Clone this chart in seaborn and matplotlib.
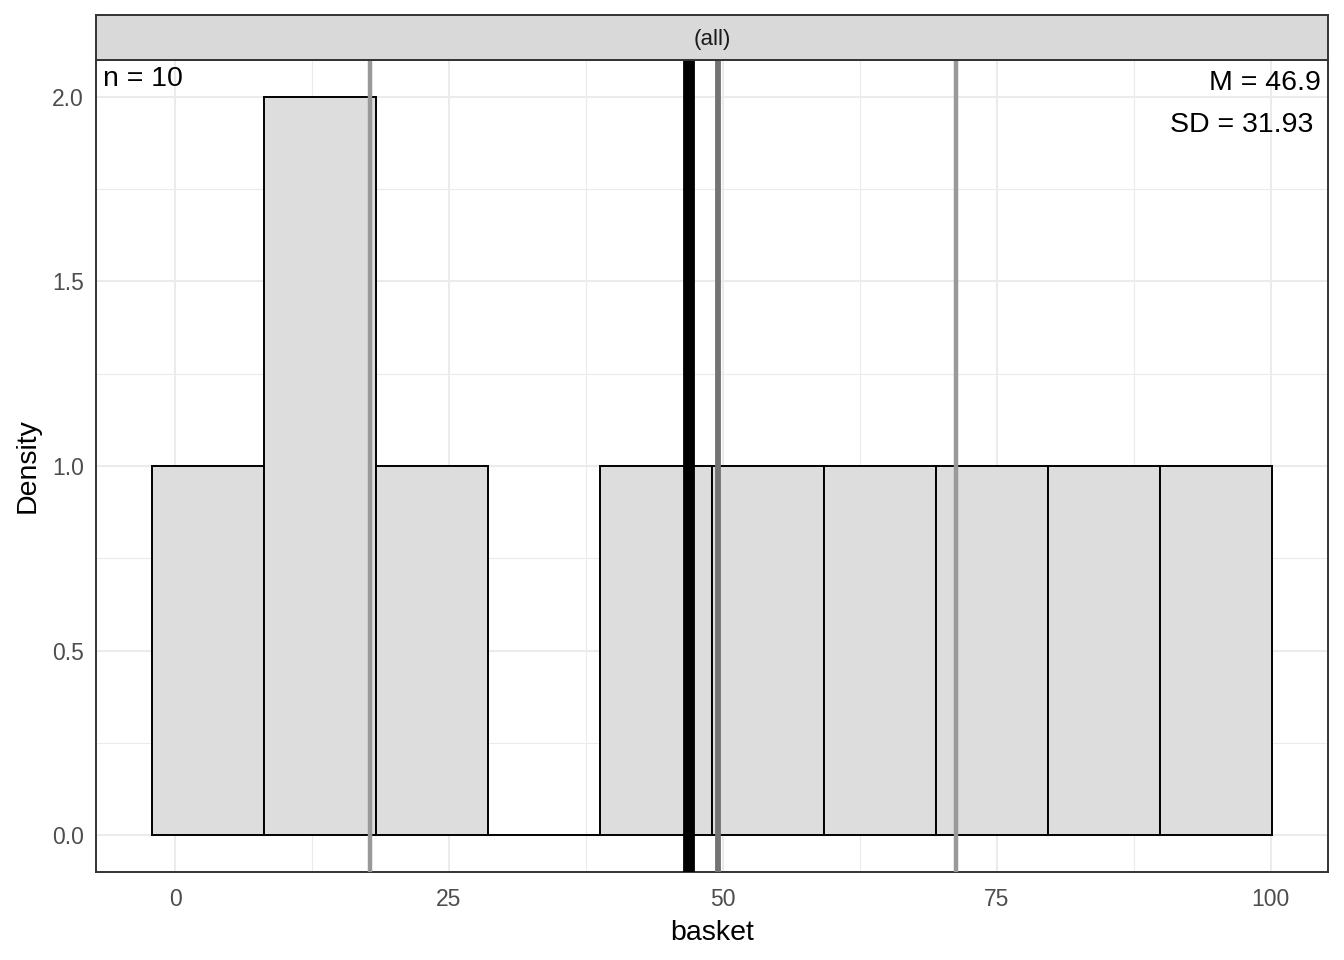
import matplotlib
matplotlib.use("Agg")
import matplotlib.pyplot as plt
import seaborn as sns
import pandas as pd

# histogram bins (10 bins, first centred on min, last on max)
bin_centers = [3.0, 13.22, 23.44, 33.67, 43.89, 54.11, 64.33, 74.56, 84.78, 95.0]
bin_counts = [1, 2, 1, 0, 1, 1, 1, 1, 1, 1]

# summary lines
mean_val = 46.9
median_val = 49.55
quartiles = [17.8, 71.3]

n_label = "n = 10"
m_label = "M = 46.9"
sd_label = "SD = 31.93"

x_ticks = [0, 25, 50, 75, 100]
y_ticks = [0.0, 0.5, 1.0, 1.5, 2.0]

sns.set_style("white")
plt.rcParams["font.family"] = ["Liberation Sans", "DejaVu Sans"]

df = pd.DataFrame({"basket": bin_centers, "count": bin_counts})
width = (bin_centers[-1] - bin_centers[0]) / (len(bin_centers) - 1)
lo, hi = bin_centers[0] - width / 2, bin_centers[-1] + width / 2

fig = plt.figure(figsize=(13.44, 9.6), dpi=100)
ax = fig.add_axes([96 / 1344, 1 - 872 / 960, (1328 - 96) / 1344, (872 - 60) / 960])

# grid
for v in [12.5, 37.5, 62.5, 87.5]:
    ax.axvline(v, color="#ebebeb", lw=0.8, zorder=0)
for v in [0.25, 0.75, 1.25, 1.75]:
    ax.axhline(v, color="#ebebeb", lw=0.8, zorder=0)
for v in x_ticks:
    ax.axvline(v, color="#ebebeb", lw=1.5, zorder=0)
for v in y_ticks:
    ax.axhline(v, color="#ebebeb", lw=1.5, zorder=0)

sns.histplot(data=df, x="basket", weights="count", binwidth=width, binrange=(lo, hi),
             stat="count", color="#dddddd", alpha=1, edgecolor="black",
             linewidth=1.4, ax=ax, zorder=2)

for q in quartiles:
    ax.axvline(q, color="#999999", lw=3.2, zorder=3)
ax.axvline(median_val, color="#737373", lw=4.2, zorder=3)
ax.axvline(mean_val, color="black", lw=8.5, zorder=4)

pad = (hi - lo) * 0.05
ax.set_xlim(lo - pad, hi + pad)
ax.set_ylim(-0.1, 2.1)
ax.set_xticks(x_ticks)
ax.set_yticks(y_ticks)
ax.set_yticklabels([f"{v:.1f}" for v in y_ticks])
ax.tick_params(axis="both", length=4.8, width=1.1, color="#333333",
               labelsize=16.5, labelcolor="#4d4d4d")
ax.tick_params(axis="x", pad=7)
ax.tick_params(axis="y", pad=4)
ax.set_xlabel("basket", fontsize=20.5, color="black", labelpad=6)
ax.set_ylabel("Density", fontsize=20.5, color="black", labelpad=8)
for s in ax.spines.values():
    s.set_color("#333333")
    s.set_linewidth(1.4)

ax.text(0.006, 0.992, n_label, transform=ax.transAxes, ha="left", va="top",
        fontsize=20.5, color="black")
ax.text(0.9945, 0.988, m_label, transform=ax.transAxes, ha="right", va="top",
        fontsize=20.5, color="black")
ax.text(0.9885, 0.936, sd_label, transform=ax.transAxes, ha="right", va="top",
        fontsize=20.5, color="black")

# facet strip
sax = fig.add_axes([96 / 1344, 1 - 60 / 960, (1328 - 96) / 1344, 45 / 960])
sax.set_facecolor("#d9d9d9")
sax.set_xticks([])
sax.set_yticks([])
for s in sax.spines.values():
    s.set_color("#333333")
    s.set_linewidth(1.4)
sax.text(0.5, 0.45, "(all)", ha="center", va="center", fontsize=16, color="#1a1a1a",
         transform=sax.transAxes)

fig.savefig("out.png", dpi=100)
